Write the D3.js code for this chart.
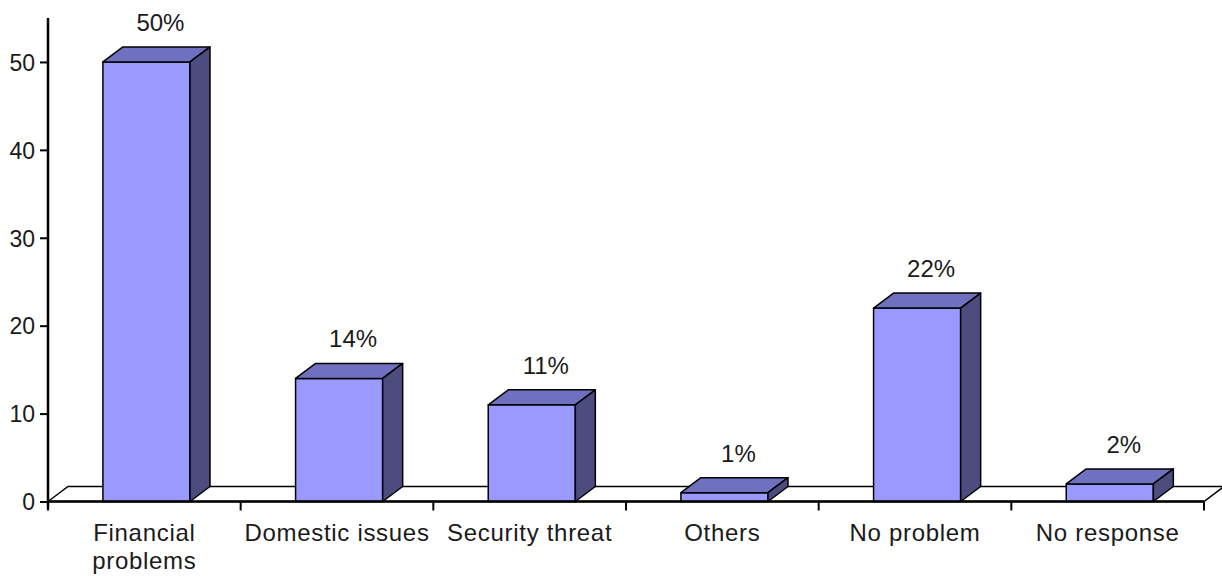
<!DOCTYPE html>
<html><head><meta charset="utf-8">
<script src="https://cdn.jsdelivr.net/npm/d3@7"></script>
<style>body{margin:0;background:#fff}svg{display:block}text{font-family:"Liberation Sans",Arial,sans-serif;fill:#1a1a1a}</style>
</head><body><svg id="c" width="1222" height="576"></svg>
<script>
const categories = ["Financial problems","Domestic issues","Security threat","Others","No problem","No response"];
const categoryLines = [["Financial","problems"],["Domestic issues"],["Security threat"],["Others"],["No problem"],["No response"]];
const values = [50,14,11,1,22,2];
const valueLabels = ["50%","14%","11%","1%","22%","2%"];
const yTicks = [0,10,20,30,40,50];

const svg = d3.select("#c");
const x = d3.scaleBand().domain(categories).range([48,1204]).paddingInner(0).paddingOuter(0);
const y = d3.scaleLinear().domain([0,55]).range([501.5,18]);
const dx = 20, dy = 15;
const bw = x.bandwidth()*0.452, off = x.bandwidth()*0.285;
const y0 = y(0);

// floor
svg.append("path")
  .attr("d", `M${x.range()[0]},${y0} L${x.range()[0]+dx},${y0-dy} L${x.range()[1]+dx},${y0-dy} L${x.range()[1]},${y0} Z`)
  .attr("fill","#fff").attr("stroke","#000").attr("stroke-width",1.5);

const g = svg.append("g");
categories.forEach((c,i)=>{
  const x0 = x(c)+off, x1 = x0+bw, yt = y(values[i]);
  g.append("path").attr("d",`M${x0},${y0} L${x0},${yt} L${x1},${yt} L${x1},${y0} Z`)
    .attr("fill","#9999ff").attr("stroke","#000").attr("stroke-width",1.5).attr("stroke-linejoin","round");
  g.append("path").attr("d",`M${x0},${yt} L${x0+dx},${yt-dy} L${x1+dx},${yt-dy} L${x1},${yt} Z`)
    .attr("fill","#7070c0").attr("stroke","#000").attr("stroke-width",1.5).attr("stroke-linejoin","round");
  g.append("path").attr("d",`M${x1},${y0} L${x1},${yt} L${x1+dx},${yt-dy} L${x1+dx},${y0-dy} Z`)
    .attr("fill","#4c4c7e").attr("stroke","#000").attr("stroke-width",1.5).attr("stroke-linejoin","round");
  g.append("text").attr("x",(x0+x1)/2+dx*0.7).attr("y",yt-dy-16)
    .attr("text-anchor","middle").attr("font-size",24).text(valueLabels[i]);
});

// y axis
const ya = svg.append("g").attr("transform","translate(48,0)")
  .call(d3.axisLeft(y).tickValues(yTicks).tickSize(8).tickPadding(5).tickFormat(d3.format("d")));
ya.select(".domain").attr("d",`M0,${y(55)}V${y0+8}`).attr("stroke","#000").attr("stroke-width",2.5);
ya.selectAll(".tick line").attr("stroke","#000").attr("stroke-width",2);
ya.selectAll(".tick text").attr("font-size",23).attr("font-family","Liberation Sans, Arial, sans-serif").attr("fill","#1a1a1a").attr("dy","0.36em");

// x axis
const xa = svg.append("g").attr("transform",`translate(0,${y0})`);
xa.append("line").attr("x1",48).attr("x2",1204).attr("stroke","#000").attr("stroke-width",2.5);
const bounds = categories.map(c=>x(c)).concat([x.range()[1]]);
xa.selectAll("line.tk").data(bounds).join("line").attr("class","tk")
  .attr("x1",d=>d).attr("x2",d=>d).attr("y1",0).attr("y2",9).attr("stroke","#000").attr("stroke-width",2);
categories.forEach((c,i)=>{
  const t = xa.append("text").attr("x",x(c)+x.bandwidth()/2).attr("y",39)
    .attr("text-anchor","middle").attr("font-size",24).attr("letter-spacing","0.7px");
  categoryLines[i].forEach((ln,j)=>t.append("tspan").attr("x",x(c)+x.bandwidth()/2).attr("dy",j?28:0).text(ln));
});
</script></body></html>
